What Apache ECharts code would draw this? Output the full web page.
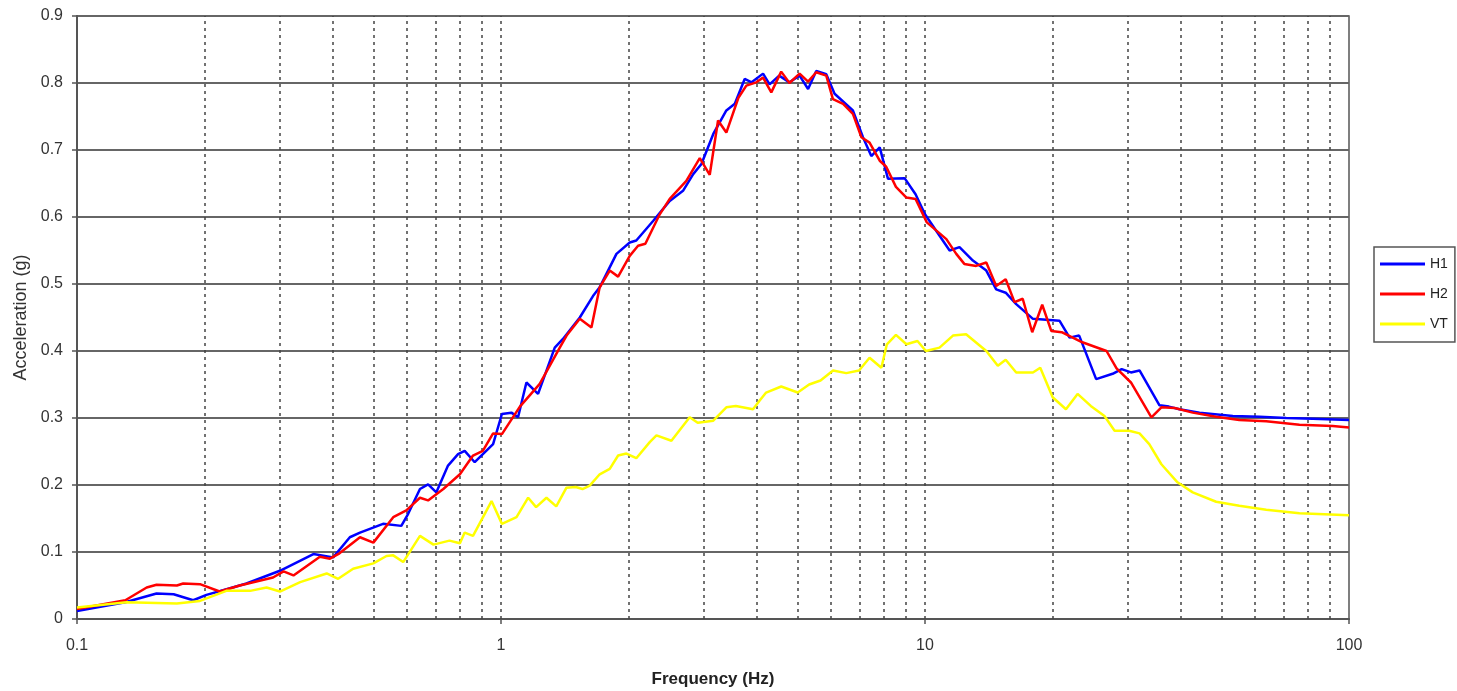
<!DOCTYPE html>
<html>
<head>
<meta charset="utf-8">
<script src="https://cdn.jsdelivr.net/npm/echarts@6/dist/echarts.min.js"></script>
<style>
html,body{margin:0;padding:0;background:#fff;}
#chart{width:1457px;height:691px;}
</style>
</head>
<body>
<div id="chart"></div>
<script>
// ---- data (frequency in Hz, acceleration in g) ----
const seriesNames = ['H1', 'H2', 'VT'];
const xTickLabels = ['0.1', '1', '10', '100'];
const yTickLabels = ['0', '0.1', '0.2', '0.3', '0.4', '0.5', '0.6', '0.7', '0.8', '0.9'];

const h1Freq = [0.1,0.13,0.154,0.169,0.188,0.202,0.221,0.251,0.301,0.361,0.402,0.44,0.465,0.527,0.582,0.604,0.644,0.673,0.704,0.75,0.792,0.821,0.867,0.958,1.005,1.058,1.097,1.148,1.223,1.339,1.40,1.534,1.648,1.709,1.872,2.012,2.085,2.284,2.5,2.687,2.84,2.97,3.167,3.40,3.56,3.756,3.90,4.15,4.30,4.53,4.79,5.06,5.30,5.54,5.85,6.12,6.76,7.14,7.47,7.82,8.18,8.95,9.5,10.0,10.25,11.43,12.06,12.97,13.95,14.72,15.5,16.41,17.97,20.77,21.93,23.1,25.33,27.7,29.1,30.6,32.06,35.73,37.6,39.83,44.4,53.2,61.5,71.1,82.1,100];
const h1Acc  = [0.012,0.025,0.038,0.037,0.028,0.036,0.043,0.053,0.072,0.097,0.092,0.122,0.129,0.142,0.139,0.157,0.194,0.201,0.189,0.229,0.246,0.251,0.234,0.261,0.306,0.308,0.301,0.353,0.336,0.405,0.418,0.450,0.482,0.495,0.545,0.562,0.565,0.594,0.624,0.639,0.664,0.679,0.724,0.759,0.769,0.806,0.801,0.814,0.798,0.811,0.801,0.811,0.791,0.818,0.813,0.784,0.759,0.719,0.691,0.704,0.657,0.658,0.634,0.604,0.594,0.550,0.555,0.535,0.520,0.492,0.487,0.470,0.448,0.445,0.420,0.423,0.358,0.366,0.373,0.368,0.371,0.319,0.317,0.313,0.308,0.303,0.302,0.300,0.299,0.297];

const h2Freq = [0.1,0.13,0.146,0.154,0.172,0.178,0.195,0.217,0.242,0.290,0.307,0.324,0.374,0.395,0.416,0.465,0.50,0.557,0.598,0.644,0.673,0.731,0.80,0.859,0.906,0.958,1.005,1.108,1.234,1.376,1.428,1.534,1.634,1.709,1.805,1.889,2.012,2.105,2.19,2.368,2.5,2.736,2.943,3.107,3.25,3.40,3.63,3.79,4.00,4.15,4.34,4.58,4.79,5.06,5.30,5.54,5.85,6.065,6.41,6.76,7.08,7.40,7.82,8.10,8.54,9.04,9.5,10.1,11.23,11.85,12.38,13.2,13.95,14.72,15.5,16.26,17.0,17.9,18.9,19.85,21.0,23.5,26.8,28.3,30.6,34.2,36.1,38.8,42.8,48.6,55.1,63.8,76.4,91.5,100];
const h2Acc  = [0.015,0.028,0.047,0.051,0.050,0.053,0.052,0.041,0.050,0.062,0.071,0.065,0.093,0.090,0.098,0.122,0.114,0.152,0.162,0.181,0.177,0.194,0.216,0.244,0.251,0.277,0.276,0.317,0.351,0.405,0.423,0.448,0.435,0.495,0.520,0.511,0.542,0.557,0.560,0.604,0.627,0.654,0.688,0.663,0.744,0.726,0.778,0.796,0.801,0.808,0.786,0.817,0.800,0.814,0.802,0.816,0.811,0.776,0.769,0.754,0.719,0.711,0.684,0.675,0.645,0.629,0.627,0.592,0.567,0.545,0.530,0.527,0.532,0.497,0.507,0.473,0.478,0.428,0.469,0.430,0.428,0.413,0.400,0.374,0.353,0.301,0.316,0.315,0.308,0.302,0.297,0.295,0.290,0.288,0.286];

const vtFreq = [0.1,0.131,0.172,0.195,0.225,0.256,0.280,0.301,0.336,0.388,0.413,0.448,0.50,0.537,0.557,0.588,0.644,0.693,0.756,0.80,0.821,0.859,0.95,1.005,1.088,1.159,1.21,1.28,1.35,1.427,1.50,1.557,1.619,1.709,1.805,1.889,1.976,2.085,2.243,2.326,2.523,2.786,2.91,3.167,3.40,3.58,3.93,4.075,4.22,4.58,5.01,5.33,5.67,6.07,6.52,6.99,7.40,7.89,8.13,8.54,9.04,9.6,10.05,10.82,11.64,12.5,13.95,14.85,15.5,16.41,17.97,18.7,20.0,21.5,22.9,24.6,26.5,28.0,30.3,32.06,33.8,36.1,39.4,42.8,48.6,55.1,63.8,76.4,100];
const vtAcc  = [0.017,0.025,0.023,0.027,0.042,0.042,0.047,0.041,0.055,0.068,0.060,0.075,0.083,0.094,0.095,0.085,0.124,0.111,0.117,0.113,0.129,0.124,0.176,0.142,0.152,0.181,0.167,0.181,0.168,0.196,0.197,0.194,0.199,0.216,0.224,0.244,0.247,0.240,0.264,0.274,0.266,0.301,0.293,0.296,0.316,0.318,0.313,0.326,0.338,0.347,0.338,0.350,0.356,0.371,0.367,0.371,0.390,0.375,0.410,0.424,0.410,0.415,0.400,0.405,0.423,0.425,0.400,0.378,0.387,0.368,0.368,0.375,0.331,0.313,0.336,0.318,0.303,0.281,0.281,0.277,0.261,0.231,0.204,0.189,0.175,0.169,0.163,0.158,0.155];

// vertical dashed grid positions (1..9 x each decade, inside the axis range)
const gridMultipliers = [1, 2, 3, 4, 5, 6, 7, 8, 9];
const gridDecades = [0.1, 1, 10];

const pair = (fs, as) => fs.map((f, i) => [f, as[i]]);
const vLines = [];
gridDecades.forEach(d => gridMultipliers.forEach(m => {
  const v = +(m * d).toPrecision(3);
  if (v > 0.1 && v < 100) vLines.push({ xAxis: v });
}));

const chart = echarts.init(document.getElementById('chart'), null, { renderer: 'canvas' });
const font = 'Liberation Sans, Arial, sans-serif';
const lineW = 2.5;

chart.setOption({
  animation: false,
  backgroundColor: '#fff',
  grid: {
    left: 77, right: 108, top: 16, bottom: 72,
    outerBoundsMode: 'none', containLabel: false,
    show: true, borderColor: '#555', borderWidth: 1.5, backgroundColor: 'transparent'
  },
  legend: {
    orient: 'vertical', left: 1374, top: 247,
    data: seriesNames,
    icon: 'rect',
    itemWidth: 45, itemHeight: 3, itemGap: 16,
    padding: [10, 7, 11, 6],
    borderColor: '#555', borderWidth: 1.5,
    textStyle: { fontFamily: font, fontSize: 14, color: '#222' }
  },
  xAxis: {
    type: 'log', logBase: 10, min: 0.1, max: 100,
    name: 'Frequency (Hz)', nameLocation: 'middle', nameGap: 52,
    nameTextStyle: { fontFamily: font, fontSize: 17, fontWeight: 'bold', color: '#222' },
    axisLine: { onZero: false, lineStyle: { color: '#555', width: 2 } },
    axisTick: { show: true, length: 5, lineStyle: { color: '#555', width: 1.5 } },
    axisLabel: {
      fontFamily: font, fontSize: 16, color: '#333', margin: 19,
      formatter: v => { const s = xTickLabels.find(t => Math.abs(+t - v) / v < 1e-6); return s || ''; }
    },
    splitLine: { show: false }
  },
  yAxis: {
    type: 'value', min: 0, max: 0.9, interval: 0.1,
    name: 'Acceleration (g)', nameLocation: 'middle', nameGap: 43, nameRotate: 90,
    nameTextStyle: { fontFamily: font, fontSize: 18, color: '#333' },
    axisLine: { show: true, lineStyle: { color: '#555', width: 2 } },
    axisTick: { show: true, length: 5, lineStyle: { color: '#555', width: 1.5 } },
    axisLabel: {
      fontFamily: font, fontSize: 16, color: '#333', margin: 14,
      formatter: v => yTickLabels[Math.round(v * 10)]
    },
    splitLine: { show: true, lineStyle: { color: '#666', width: 2 } }
  },
  series: [
    {
      name: 'H1', type: 'line', data: pair(h1Freq, h1Acc), symbol: 'none',
      lineStyle: { color: '#0000ff', width: lineW }, itemStyle: { color: '#0000ff' },
      markLine: {
        silent: true, symbol: 'none', label: { show: false },
        lineStyle: { color: '#444', width: 1.5, type: [3, 4] },
        data: vLines, z: 1
      },
      z: 3
    },
    {
      name: 'H2', type: 'line', data: pair(h2Freq, h2Acc), symbol: 'none',
      lineStyle: { color: '#ff0000', width: lineW }, itemStyle: { color: '#ff0000' }, z: 4
    },
    {
      name: 'VT', type: 'line', data: pair(vtFreq, vtAcc), symbol: 'none',
      lineStyle: { color: '#ffff00', width: lineW }, itemStyle: { color: '#ffff00' }, z: 5
    }
  ]
});
</script>
</body>
</html>
